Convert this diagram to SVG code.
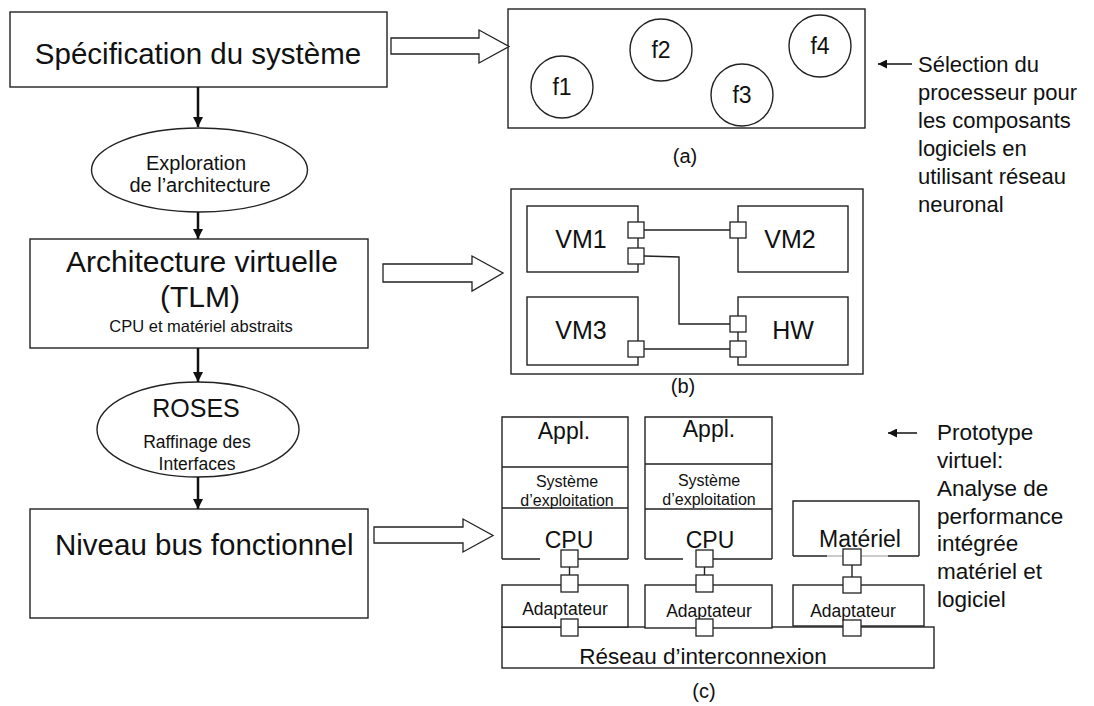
<svg xmlns="http://www.w3.org/2000/svg" width="1094" height="706" viewBox="0 0 1094 706">
<defs>
<style>
text{font-family:"Liberation Sans",Arial,sans-serif;fill:#111}
.box{fill:#fff;stroke:#222;stroke-width:1.4}
.ln{fill:none;stroke:#222;stroke-width:1.4}
.port{fill:#fff;stroke:#222;stroke-width:1.3}
.flow{fill:none;stroke:#111;stroke-width:2.5}
.hollow{fill:#fff;stroke:#222;stroke-width:1.3}
.c{text-anchor:middle}
</style>
<marker id="ah" viewBox="0 0 10 10" refX="10" refY="5" markerWidth="4" markerHeight="4" orient="auto" markerUnits="strokeWidth">
<path d="M0,0 L10,5 L0,10 z" fill="#111"/>
</marker>
<marker id="sah" viewBox="0 0 10 10" refX="10" refY="5" markerWidth="8" markerHeight="6" orient="auto" markerUnits="strokeWidth">
<path d="M0,0 L10,5 L0,10 z" fill="#111"/>
</marker>
</defs>
<rect width="1094" height="706" fill="#fff"/>

<g id="spec">
<rect class="box" x="10" y="12" width="377" height="75"/>
<text class="c" x="198" y="64" font-size="29.5">Spécification du système</text>
</g>
<g id="explo">
<ellipse class="box" cx="199.5" cy="170" rx="108" ry="42"/>
<text class="c" x="196" y="170" font-size="20">Exploration</text>
<text class="c" x="200" y="192" font-size="20">de l’architecture</text>
</g>
<g id="archi">
<rect class="box" x="30" y="239" width="338" height="109"/>
<text class="c" x="202" y="272" font-size="30">Architecture virtuelle</text>
<text class="c" x="200" y="307" font-size="30">(TLM)</text>
<text class="c" x="201" y="332" font-size="16.5">CPU et matériel abstraits</text>
</g>
<g id="roses">
<ellipse class="box" cx="198" cy="429.5" rx="101" ry="47.5"/>
<text class="c" x="196" y="417" font-size="25">ROSES</text>
<text class="c" x="197" y="448" font-size="17.5">Raffinage des</text>
<text class="c" x="197" y="470" font-size="17.5">Interfaces</text>
</g>
<g id="bus">
<rect class="box" x="30" y="509" width="338" height="109"/>
<text x="55" y="555" font-size="29.5">Niveau bus fonctionnel</text>
</g>

<g id="a">
<rect class="box" x="508" y="9" width="357" height="119"/>
<circle class="box" cx="562" cy="87" r="31"/>
<circle class="box" cx="661" cy="50" r="31"/>
<circle class="box" cx="742" cy="95" r="31"/>
<circle class="box" cx="820" cy="46" r="31"/>
<text class="c" x="562" y="95" font-size="23">f1</text>
<text class="c" x="661" y="58" font-size="23">f2</text>
<text class="c" x="742" y="103" font-size="23">f3</text>
<text class="c" x="820" y="54" font-size="23">f4</text>
<text class="c" x="685" y="163" font-size="20">(a)</text>
</g>

<g id="b">
<rect class="box" x="511" y="189" width="352" height="185"/>
<rect class="box" x="527" y="206" width="111" height="66"/>
<rect class="box" x="738" y="206" width="110" height="66"/>
<rect class="box" x="527" y="297" width="111" height="68"/>
<rect class="box" x="738" y="297" width="110" height="68"/>
<text class="c" x="581" y="248" font-size="25">VM1</text>
<text class="c" x="790" y="248" font-size="25">VM2</text>
<text class="c" x="581" y="339" font-size="25">VM3</text>
<text class="c" x="793" y="339" font-size="25">HW</text>
<path class="ln" d="M644,230 H730 M644,256 L679,257 V324 H730 M644,349 H730"/>
<rect class="port" x="628" y="222" width="16" height="16"/>
<rect class="port" x="628" y="248" width="16" height="16"/>
<rect class="port" x="730" y="222" width="16" height="16"/>
<rect class="port" x="730" y="316" width="16" height="16"/>
<rect class="port" x="730" y="341" width="16" height="16"/>
<rect class="port" x="628" y="341" width="16" height="16"/>
<text class="c" x="683" y="393" font-size="20">(b)</text>
</g>

<g id="c">
<rect class="box" x="502" y="627" width="432" height="41"/>
<text class="c" x="703" y="664" font-size="22.5">Réseau d’interconnexion</text>
<rect class="box" x="502" y="585" width="126" height="42"/>
<rect class="box" x="645" y="585" width="127" height="43"/>
<rect class="box" x="793" y="585" width="131" height="41"/>
<text class="c" x="565" y="615" font-size="17.5">Adaptateur</text>
<text class="c" x="709" y="617" font-size="17.5">Adaptateur</text>
<text class="c" x="853" y="617" font-size="17.5">Adaptateur</text>
<path class="ln" d="M502,559 V417 H628 V559 M502,467 H628 M502,508 H628 M502,559 H540 M578,559 H628"/>
<path class="ln" d="M645,559 V417 H772 V559 M645,464 H772 M645,509 H772 M645,559 H683 M713,559 H772"/>
<path class="ln" d="M793,556 V501 H919 V556 M793,556 H827 M888,556 H919"/>
<path d="M827,556 H888" fill="none" stroke="#bbb" stroke-width="1.3"/>
<text class="c" x="564" y="439" font-size="23">Appl.</text>
<text class="c" x="567" y="487" font-size="16">Système</text>
<text class="c" x="567" y="506" font-size="16">d’exploitation</text>
<text class="c" x="569" y="548" font-size="23">CPU</text>
<text class="c" x="709" y="437" font-size="23">Appl.</text>
<text class="c" x="709" y="486" font-size="16">Système</text>
<text class="c" x="709" y="505" font-size="16">d’exploitation</text>
<text class="c" x="710" y="548" font-size="23">CPU</text>
<text class="c" x="860" y="547" font-size="23">Matériel</text>
<path class="ln" d="M569.5,567 V575 M704.5,567 V575 M852,565 V577"/>
<rect class="port" x="561" y="550" width="17" height="17"/>
<rect class="port" x="561" y="575" width="17" height="17"/>
<rect class="port" x="561" y="619" width="17" height="17"/>
<rect class="port" x="696" y="550" width="17" height="17"/>
<rect class="port" x="696" y="575" width="17" height="17"/>
<rect class="port" x="696" y="619" width="17" height="17"/>
<rect class="port" x="843" y="549" width="18" height="16"/>
<rect class="port" x="843" y="577" width="18" height="16"/>
<rect class="port" x="843" y="620" width="18" height="16"/>
<text class="c" x="704" y="698" font-size="20">(c)</text>
</g>

<g id="note1">
<text font-size="22"><tspan x="918" y="72">Sélection du</tspan><tspan x="918" y="100">processeur pour</tspan><tspan x="918" y="128">les composants</tspan><tspan x="918" y="156">logiciels en</tspan><tspan x="918" y="184">utilisant réseau</tspan><tspan x="918" y="212">neuronal</tspan></text>
</g>
<g id="note2">
<text font-size="22.5"><tspan x="937" y="440">Prototype</tspan><tspan x="937" y="468">virtuel:</tspan><tspan x="937" y="496">Analyse de</tspan><tspan x="937" y="524">performance</tspan><tspan x="937" y="551">intégrée</tspan><tspan x="937" y="579">matériel et</tspan><tspan x="937" y="607">logiciel</tspan></text>
</g>

<g id="connectors">
<path class="flow" d="M198,87 V127" marker-end="url(#ah)"/>
<path class="flow" d="M198,212 V239" marker-end="url(#ah)"/>
<path class="flow" d="M198,348 V382" marker-end="url(#ah)"/>
<path class="flow" d="M198,477 V509" marker-end="url(#ah)"/>
<polygon class="hollow" points="391,38 479,38 479,30 509,46.5 479,63 479,54 391,54"/>
<polygon class="hollow" points="383,264 472,264 472,256 503,273 472,291 472,282 383,282"/>
<polygon class="hollow" points="374,527 463,527 463,519 493,535.5 463,552 463,543 374,543"/>
<path d="M912,64 H878" fill="none" stroke="#111" stroke-width="1.5" marker-end="url(#sah)"/>
<path d="M917,433 H888" fill="none" stroke="#111" stroke-width="1.5" marker-end="url(#sah)"/>
</g>
</svg>
